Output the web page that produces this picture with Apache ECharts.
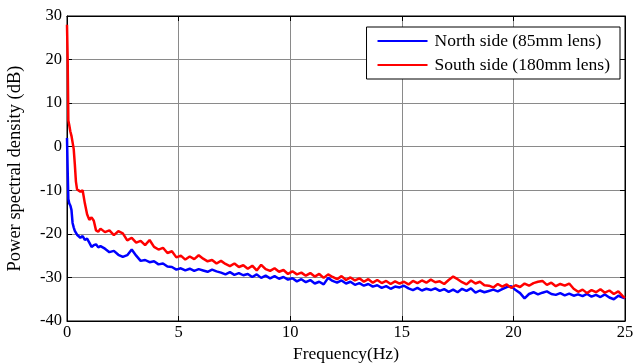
<!DOCTYPE html>
<html>
<head>
<meta charset="utf-8">
<script src="https://cdn.jsdelivr.net/npm/echarts@6/dist/echarts.min.js"></script>
<style>html,body{margin:0;padding:0;background:#fff}#c{width:634px;height:363px}</style>
</head>
<body>
<div id="c"></div>
<script>
var freq = [
  0, 0.03, 0.06, 0.1, 0.15, 0.2, 0.25, 0.3, 0.35, 0.4, 0.45, 0.5, 0.6, 0.7, 0.8, 0.9, 1.0, 1.1, 1.2, 1.3, 1.4, 1.5,
  1.7, 1.9,
  2.1, 2.3, 2.5, 2.7, 2.9,
  3.1, 3.3, 3.5, 3.7, 3.9,
  4.1, 4.3, 4.5, 4.7, 4.9,
  5.1, 5.3, 5.5, 5.7, 5.9,
  6.1, 6.3, 6.5, 6.7, 6.9,
  7.1, 7.3, 7.5, 7.7, 7.9,
  8.1, 8.3, 8.5, 8.7, 8.9,
  9.1, 9.3, 9.5, 9.7, 9.9,
  10.1, 10.3, 10.5, 10.7, 10.9,
  11.1, 11.3, 11.5, 11.7, 11.9,
  12.1, 12.3, 12.5, 12.7, 12.9,
  13.1, 13.3, 13.5, 13.7, 13.9,
  14.1, 14.3, 14.5, 14.7, 14.9,
  15.1, 15.3, 15.5, 15.7, 15.9,
  16.1, 16.3, 16.5, 16.7, 16.9,
  17.1, 17.3, 17.5, 17.7, 17.9,
  18.1, 18.3, 18.5, 18.7, 18.9,
  19.1, 19.3, 19.5, 19.7, 19.9,
  20.1, 20.3, 20.5, 20.7, 20.9,
  21.1, 21.3, 21.5, 21.7, 21.9,
  22.1, 22.3, 22.5, 22.7, 22.9,
  23.1, 23.3, 23.5, 23.7, 23.9,
  24.1, 24.3, 24.5, 24.7, 24.9,
  25
];
var northPSD = [
  2, -5.5, -12, -13, -13.5, -14.5, -17.5, -18.5, -19.3, -19.6, -20.2, -20.6, -20.9, -20.5, -21.4, -21.1, -22.0, -23.0, -22.6, -22.4, -23.1, -22.8,
  -23.4, -24.2,
  -23.9, -24.8, -25.3, -24.9, -23.6,
  -25.0, -26.2, -26.0, -26.5, -26.3,
  -27.0, -26.8, -27.5, -27.6, -28.2,
  -27.9, -28.4, -28.0, -28.5, -28.1,
  -28.4, -28.7, -28.2, -28.6, -28.9,
  -29.3, -28.8, -29.4, -29.0, -29.5,
  -29.2, -29.9, -29.3, -30.1, -29.6,
  -30.2, -29.7, -30.3, -29.9, -30.5,
  -30.2, -30.9, -30.4, -31.1, -30.6,
  -31.4, -31.0, -31.6, -30.1, -30.8,
  -31.2, -30.7, -31.4, -31.0, -31.7,
  -31.3, -31.9, -31.5, -32.1, -31.8,
  -32.4, -32.0, -32.6, -32.1, -32.3,
  -31.9, -32.5, -32.9, -32.4, -33.0,
  -32.6, -32.9, -32.5, -33.1, -32.7,
  -33.3, -32.8, -33.4, -32.6, -33.1,
  -32.5, -33.5, -33.0, -33.4, -33.1,
  -32.8, -33.2, -32.7, -32.2, -32.0,
  -32.9, -33.6, -34.8, -33.8, -33.4,
  -33.9, -33.5, -33.2, -33.8, -34.0,
  -33.6, -34.1, -33.7, -34.2, -33.9,
  -34.3, -33.8, -34.4, -34.0, -34.5,
  -33.9, -34.6, -35.0, -34.2, -34.6,
  -34.8
];
var southPSD = [
  28, 20, 6, 5, 3.5, 2.5, 1, -0.5, -4, -8, -9.8, -10, -10.3, -10, -13, -15.5, -16.8, -16.2, -17, -19.2, -19.5, -18.8,
  -19.6, -19.2,
  -20.3, -19.4, -19.9, -21.5, -20.9,
  -22.0, -21.6, -22.6, -21.4, -23.0,
  -23.6, -23.2, -24.4, -24.0, -25.4,
  -25.0, -25.9, -25.2, -25.8, -24.9,
  -25.7, -26.3, -26.0, -26.8, -26.2,
  -26.9, -27.4, -26.8, -27.6, -27.2,
  -28.0, -27.3, -28.4, -27.1, -28.1,
  -28.5, -27.9, -28.7, -28.3, -29.2,
  -28.6, -29.3, -28.9, -29.6, -29.0,
  -29.8, -29.2, -30.1, -29.3, -29.9,
  -30.4, -29.7, -30.6, -30.0, -30.7,
  -30.2, -31.0, -30.4, -31.2, -30.6,
  -31.3, -30.8, -31.5, -30.9, -31.4,
  -31.0, -31.6, -30.8, -31.3, -30.7,
  -31.2, -30.5, -31.1, -30.9, -31.5,
  -30.6, -29.8, -30.4, -31.1, -31.6,
  -30.7, -31.4, -31.0, -31.8, -31.9,
  -32.3, -31.5, -32.1, -31.6, -32.4,
  -31.8, -32.2, -31.4, -31.9, -31.3,
  -31.0, -30.8, -31.7, -31.2, -32.0,
  -31.5, -31.9, -31.4, -32.6, -33.3,
  -32.8, -33.6, -32.9, -33.4, -32.7,
  -33.5, -33.0, -33.8, -33.2, -34.3,
  -34.7
];
var seriesNames = ['North side (85mm lens)', 'South side (180mm lens)'];
var xTicks = [0, 25, 5];
var yTicks = [-40, 30, 10];

function pairs(xs, ys) { return xs.map(function (x, i) { return [x, ys[i]]; }); }

var font = 'Liberation Serif, Times New Roman, serif';
var chart = echarts.init(document.getElementById('c'), null, { renderer: 'canvas' });
var baseX = {
  type: 'value', min: xTicks[0], max: xTicks[1], interval: xTicks[2],
  axisLine: { onZero: false, lineStyle: { color: '#000', width: 1 } },
  axisTick: { inside: true, length: 5, lineStyle: { color: '#000' } },
  axisLabel: { color: '#000', fontFamily: font, fontSize: 16.5, margin: 3 },
  splitLine: { show: true, lineStyle: { color: '#8a8a8a', width: 1 } }
};
var baseY = {
  type: 'value', min: yTicks[0], max: yTicks[1], interval: yTicks[2],
  axisLine: { onZero: false, lineStyle: { color: '#000', width: 1 } },
  axisTick: { inside: true, length: 5, lineStyle: { color: '#000' } },
  axisLabel: { color: '#000', fontFamily: font, fontSize: 16.5, margin: 5 },
  splitLine: { show: true, lineStyle: { color: '#8a8a8a', width: 1 } }
};
chart.setOption({
  animation: false,
  backgroundColor: '#fff',
  grid: { left: 67, right: 9, top: 16, bottom: 42, show: true, borderColor: '#000', borderWidth: 1,
    backgroundColor: 'transparent', containLabel: false, outerBoundsMode: 'none' },
  xAxis: [
    Object.assign({}, baseX, { position: 'bottom', name: 'Frequency(Hz)', nameLocation: 'middle', nameGap: 24,
      nameTextStyle: { color: '#000', fontFamily: font, fontSize: 17.5 } }),
    Object.assign({}, baseX, { position: 'top', axisLabel: { show: false }, splitLine: { show: false } })
  ],
  yAxis: [
    Object.assign({}, baseY, { position: 'left', name: 'Power spectral density (dB)', nameLocation: 'middle', nameGap: 42,
      nameTextStyle: { color: '#000', fontFamily: font, fontSize: 18.5, padding: [0, 0, 0, 0] } }),
    Object.assign({}, baseY, { position: 'right', axisLabel: { show: false }, splitLine: { show: false } })
  ],
  legend: {
    orient: 'vertical', right: 14, top: 27,
    backgroundColor: '#fff', borderColor: '#000', borderWidth: 1,
    padding: [5, 10, 5, 11], itemGap: 6, itemWidth: 50, itemHeight: 2,
    icon: 'rect',
    textStyle: { color: '#000', fontFamily: font, fontSize: 17.5, padding: [0, 0, 0, 2] },
    data: seriesNames
  },
  series: [
    { name: seriesNames[0], type: 'line', data: pairs(freq, northPSD), showSymbol: false, symbol: 'none',
      lineStyle: { color: '#0000ff', width: 2.5 }, itemStyle: { color: '#0000ff' } },
    { name: seriesNames[1], type: 'line', data: pairs(freq, southPSD), showSymbol: false, symbol: 'none',
      lineStyle: { color: '#ff0000', width: 2.5 }, itemStyle: { color: '#ff0000' } }
  ]
});
</script>
</body>
</html>
